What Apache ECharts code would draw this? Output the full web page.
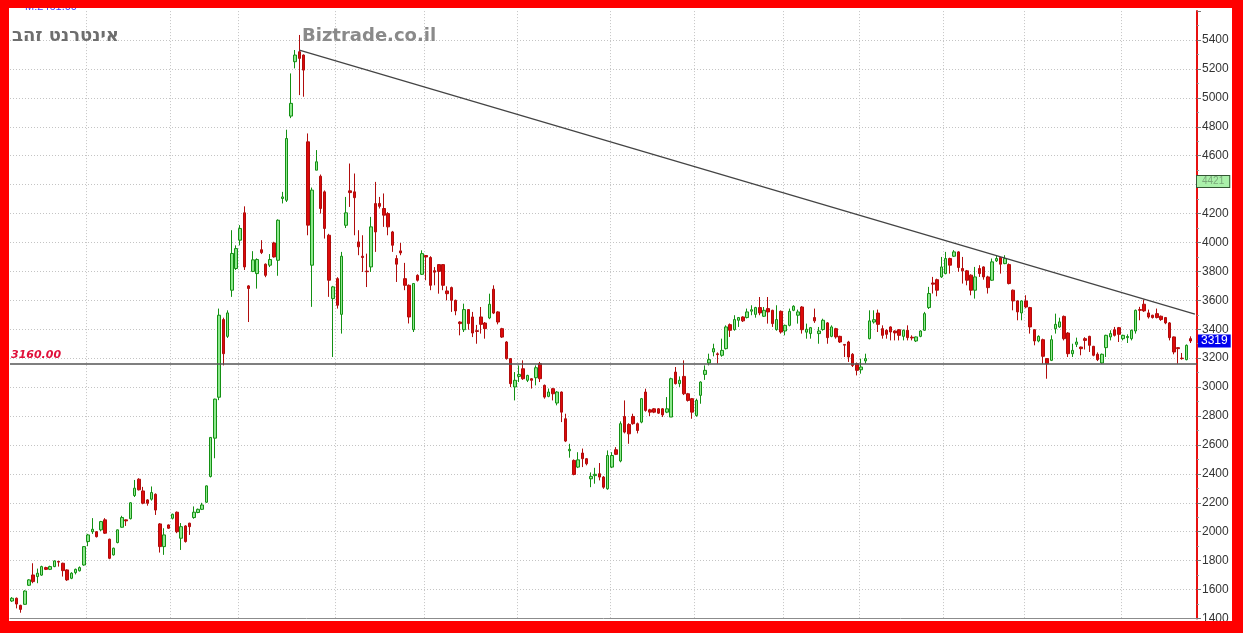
<!DOCTYPE html>
<html><head><meta charset="utf-8">
<script src="https://cdn.jsdelivr.net/npm/echarts@6/dist/echarts.min.js"></script>
<style>html,body{margin:0;padding:0;background:#fff}#c{width:1243px;height:633px}</style>
</head><body><div id="c"></div><script>
// ---- data ----
const opens = [
1521,1540,1491,1498,1630,1701,1690,1700,1752,1740,
1759,1795,1782,1736,1678,1717,1730,1770,1932,2000,
2000,2013,2082,1948,1840,1925,2031,2082,2090,2250,
2363,2282,2220,2225,2259,2054,1897,2047,2093,2135,
1955,2040,2059,2098,2133,2155,2204,2382,2647,2930,
3467,3351,3670,3820,4016,4205,3700,3800,3785,3950,
3850,3843,3997,3877,4304,4292,4874,5250,5319,5296,
4696,3843,4500,4458,4350,4050,3612,3750,3503,4119,
4357,4350,4004,3905,3802,3831,4269,4270,4235,4200,
4073,3889,3942,3750,3704,3397,3773,3780,3910,3896,
3805,3847,3847,3665,3688,3600,3450,3397,3536,3485,
3390,3485,3443,3478,3677,3520,3404,3312,3197,3001,
3074,3127,3047,3058,3065,3162,3012,2936,2989,2890,
2966,2781,2560,2493,2447,2544,2505,2366,2388,2401,
2378,2297,2447,2567,2489,2797,2742,2797,2747,2758,
2966,2843,2850,2850,2850,2827,2793,3104,3024,3074,
2954,2920,2804,2943,3088,3167,3243,3230,3220,3266,
3432,3398,3462,3485,3481,3525,3503,3550,3490,3543,
3531,3398,3524,3388,3427,3531,3497,3554,3380,3370,
3481,3370,3398,3444,3351,3404,3351,3295,3312,3227,
3162,3120,3181,3335,3450,3512,3404,3393,3416,3388,
3397,3351,3393,3345,3319,3351,3393,3550,3720,3743,
3762,3785,3889,3905,3935,3820,3804,3774,3670,3820,
3831,3762,3739,3873,3896,3854,3847,3670,3596,3513,
3596,3550,3397,3319,3328,3197,3185,3404,3416,3489,
3374,3231,3296,3277,3335,3351,3282,3227,3167,3273,
3347,3397,3411,3335,3342,3335,3388,3536,3573,3513,
3497,3508,3490,3481,3444,3347,3273,3200,3190,3335
];
const closes = [
1540,1500,1463,1590,1667,1655,1713,1759,1740,1759,
1798,1790,1731,1667,1713,1740,1752,1897,1978,2017,
1966,2070,1990,1816,1886,2013,2098,2075,2200,2301,
2290,2197,2197,2271,2150,1897,1978,2024,2121,2000,
2035,1932,2035,2135,2155,2185,2317,2652,2917,3497,
3231,3513,3924,3958,4097,3831,3682,3880,3882,3930,
3773,3882,3900,4154,4315,4719,4962,5296,5273,5192,
4120,4362,4558,4235,4097,3739,3693,3566,3905,4205,
4345,4310,3970,3896,3798,4108,4073,4250,4189,4108,
3981,3850,3928,3704,3485,3716,3739,3923,3900,3704,
3795,3800,3704,3646,3600,3527,3439,3536,3439,3374,
3385,3434,3404,3573,3512,3450,3346,3197,3024,3047,
3088,3058,3081,3047,3134,3058,2931,2966,2954,2966,
2827,2627,2570,2396,2497,2505,2470,2383,2397,2378,
2308,2527,2527,2535,2747,2689,2677,2747,2700,2920,
2839,2827,2827,2820,2808,2850,3058,3024,3047,2954,
2908,2827,2908,3035,3116,3190,3266,3225,3254,3416,
3393,3467,3481,3458,3520,3535,3550,3513,3531,3520,
3439,3467,3381,3427,3524,3559,3520,3397,3400,3411,
3458,3388,3462,3342,3416,3347,3312,3290,3208,3150,
3116,3139,3197,3458,3466,3434,3358,3365,3381,3375,
3358,3393,3342,3340,3347,3388,3508,3647,3712,3670,
3831,3889,3843,3935,3827,3804,3739,3670,3762,3785,
3762,3688,3866,3889,3850,3889,3716,3596,3520,3596,
3554,3416,3319,3351,3213,3162,3328,3434,3451,3335,
3231,3254,3312,3266,3323,3289,3220,3190,3227,3358,
3370,3358,3365,3358,3350,3393,3531,3531,3527,3485,
3481,3481,3467,3444,3342,3243,3266,3197,3289,3319
];
const lows = [
1515,1470,1440,1495,1625,1644,1644,1695,1735,1735,
1755,1759,1690,1660,1672,1705,1725,1765,1900,1985,
1960,2005,1985,1810,1835,1920,2028,2040,2085,2240,
2285,2190,2180,2215,2116,1856,1840,2020,2085,1990,
1874,1925,1978,2090,2128,2150,2200,2375,2508,2910,
3150,3340,3624,3810,3980,3810,3450,3795,3681,3920,
3760,3830,3895,3770,4270,4280,4860,5204,5019,5008,
4050,3555,4500,4200,4027,3624,3208,3543,3370,4100,
4246,4050,3912,3796,3692,3796,3935,4235,4108,4050,
3935,3727,3912,3670,3440,3381,3730,3775,3739,3670,
3704,3646,3670,3600,3520,3497,3358,3381,3397,3346,
3300,3370,3335,3470,3505,3434,3340,3190,3000,2908,
3035,3050,3035,2990,3012,3035,2920,2930,2908,2874,
2758,2620,2512,2390,2440,2447,2459,2308,2332,2355,
2297,2290,2440,2530,2480,2680,2608,2740,2680,2750,
2830,2800,2820,2815,2793,2820,2793,3018,3001,2945,
2900,2781,2795,2885,3050,3150,3213,3162,3210,3260,
3347,3390,3416,3450,3475,3497,3480,3497,3485,3439,
3416,3390,3370,3358,3420,3525,3439,3370,3335,3335,
3444,3300,3390,3300,3345,3335,3305,3208,3174,3139,
3081,3093,3162,3330,3439,3381,3335,3335,3323,3323,
3323,3323,3323,3323,3312,3345,3390,3540,3647,3628,
3755,3780,3785,3900,3797,3716,3704,3635,3612,3762,
3743,3647,3735,3865,3785,3850,3710,3531,3462,3462,
3545,3370,3289,3310,3162,3058,3180,3370,3410,3323,
3208,3208,3277,3220,3260,3243,3213,3180,3162,3208,
3323,3350,3312,3323,3305,3323,3370,3462,3520,3474,
3474,3475,3458,3435,3323,3227,3162,3190,3185,3305
];
const highs = [
1548,1545,1495,1595,1672,1782,1745,1765,1758,1765,
1802,1798,1786,1740,1720,1745,1760,1900,1985,2094,
2005,2075,2094,1952,1890,2015,2110,2085,2205,2358,
2370,2310,2225,2313,2265,2060,2024,2050,2125,2140,
2060,2045,2062,2175,2160,2200,2320,2655,2920,3543,
3480,3531,4085,3980,4120,4250,3705,3940,3890,4016,
3855,3920,4005,4160,4350,4780,5169,5331,5435,5300,
4754,4380,4639,4470,4360,4060,3700,3760,3935,4315,
4546,4477,4085,4050,3923,4177,4419,4315,4339,4210,
4080,3912,3997,3859,3710,3720,3780,3946,3912,3905,
3830,3850,3850,3697,3695,3605,3455,3577,3540,3520,
3430,3554,3450,3646,3704,3525,3410,3318,3200,3104,
3150,3185,3085,3062,3150,3174,3018,2990,2995,2972,
2970,2816,2608,2500,2550,2575,2510,2410,2442,2475,
2385,2562,2550,2585,2763,2908,2750,2816,2755,2925,
2989,2850,2855,2855,2855,2931,3065,3139,3074,3185,
2960,2925,2920,3040,3150,3231,3300,3240,3335,3427,
3440,3497,3485,3490,3543,3566,3555,3623,3554,3623,
3535,3566,3530,3432,3543,3566,3536,3560,3439,3416,
3543,3416,3473,3450,3427,3410,3355,3296,3320,3235,
3170,3197,3231,3531,3531,3536,3427,3400,3420,3393,
3400,3398,3427,3358,3350,3393,3520,3693,3762,3750,
3900,3935,3895,3947,3940,3900,3810,3780,3831,3843,
3835,3770,3889,3912,3900,3912,3855,3675,3600,3600,
3635,3555,3400,3358,3335,3200,3358,3508,3480,3495,
3380,3300,3342,3280,3345,3355,3285,3240,3232,3362,
3393,3416,3416,3362,3365,3398,3536,3555,3605,3536,
3500,3543,3495,3485,3450,3350,3276,3236,3295,3351
];
// category slots (one spare slot at the right end)
const slotCount = 281;
// month-boundary slots for the vertical grid lines
const monthStarts = [18,38,54,77,98,120,142,162,183,201,221,240,263];
// y axis
const yMin = 1400, yMax = 5600, yStep = 200;
const hiddenTickLabels = [5600];
// reference levels / annotations
const supportLevel = 3160;
const supportLabel = '3160.00';
const lastPrice = 3319;
const markerPrice = 4421;
const trendStart = [68, 5330];
const trendEnd = [280, 3504];
const titleText = 'אינטרנט זהב';
const siteText = 'Biztrade.co.il';
const infoText = 'M:2461.00';

// ---- build ----
const categories = [];
for (let i = 0; i < slotCount; i++) categories.push(String(i));
const candleData = opens.map((o, i) => [o, closes[i], lows[i], highs[i]]);
const monthSet = new Set(monthStarts);

const chart = echarts.init(document.getElementById('c'), null, {renderer: 'canvas'});
chart.setOption({
  animation: false,
  backgroundColor: '#ffffff',
  grid: {left: 10, right: 46, top: 11.1, bottom: 14.5, containLabel: false},
  xAxis: {
    type: 'category', data: categories, boundaryGap: true,
    axisLine: {show: true, lineStyle: {color: '#8c8c8c', width: 1}},
    axisTick: {show: false}, axisLabel: {show: false},
    splitLine: {show: true, interval: (idx) => monthSet.has(idx),
      lineStyle: {color: '#c4c4c4', type: [1, 2], width: 1}}
  },
  yAxis: {
    type: 'value', position: 'right', min: yMin, max: yMax, interval: yStep, scale: true,
    axisLine: {show: true, lineStyle: {color: '#e81010', width: 2}},
    axisTick: {show: true, length: 4, lineStyle: {color: '#777'}},
    minorTick: {show: true, splitNumber: 2, length: 2, lineStyle: {color: '#999'}},
    axisLabel: {color: '#333', fontSize: 12, fontFamily: 'Liberation Sans, Arial', margin: 5,
      formatter: (v) => hiddenTickLabels.includes(v) ? '' : String(v)},
    splitLine: {show: true, showMaxLine: false, lineStyle: {color: '#c4c4c4', type: [1, 2], width: 1}}
  },
  series: [{
    type: 'candlestick',
    data: candleData,
    barWidth: 3,
    itemStyle: {color: '#8ee88e', color0: '#dd0a0a', borderColor: '#139013', borderColor0: '#b00c0c', borderWidth: 1},
    markLine: {
      silent: true, symbol: ['none', 'none'], animation: false,
      data: [
        {yAxis: supportLevel,
          lineStyle: {color: '#555', width: 1.5, type: 'solid'},
          label: {show: true, position: 'insideStartTop', distance: [1, 3], formatter: supportLabel,
            color: '#e0103a', fontSize: 11, fontWeight: 'bold', fontStyle: 'italic', fontFamily: 'DejaVu Sans'}},
        [{coord: trendStart, lineStyle: {color: '#444', width: 1.3, type: 'solid'}, label: {show: false}},
         {coord: trendEnd}],
        {yAxis: lastPrice,
          lineStyle: {color: 'rgba(0,0,0,0)', width: 0},
          label: {show: true, position: 'end', distance: 1, formatter: String(lastPrice),
            color: '#ffffff', backgroundColor: '#0000ee', padding: [1, 3, 0, 3],
            fontSize: 12, fontFamily: 'Liberation Sans, Arial'}},
        {yAxis: markerPrice,
          lineStyle: {color: 'rgba(0,0,0,0)', width: 0},
          label: {show: true, position: 'end', distance: 0, formatter: String(markerPrice),
            color: '#7aa87a', backgroundColor: '#aaf0aa', borderColor: '#335533', borderWidth: 1,
            padding: [1, 5, 0, 5], fontSize: 10, fontFamily: 'Liberation Sans, Arial'}}
      ]
    }
  }],
  graphic: [
    {type: 'text', left: 25, top: 1, z: 1,
      style: {text: infoText, fill: '#3a3aff', font: '11px "Liberation Sans", Arial'}},
    {type: 'text', left: 12, top: 27, z: 1,
      style: {text: titleText, fill: '#6e6e6e', font: 'bold 18px "DejaVu Sans", "Liberation Sans"'}},
    {type: 'text', left: 302, top: 27, z: 1,
      style: {text: siteText, fill: '#8a8a8a', font: 'bold 18px "DejaVu Sans", Verdana'}},
    // red frame
    {type: 'rect', left: 0, top: 0, z: 100, shape: {width: 1243, height: 8}, style: {fill: '#ff0000'}},
    {type: 'rect', left: 0, top: 621, z: 100, shape: {width: 1243, height: 12}, style: {fill: '#ff0000'}},
    {type: 'rect', left: 0, top: 0, z: 100, shape: {width: 9, height: 633}, style: {fill: '#ff0000'}},
    {type: 'rect', left: 1232, top: 0, z: 100, shape: {width: 11, height: 633}, style: {fill: '#ff0000'}}
  ]
});
</script></body></html>
